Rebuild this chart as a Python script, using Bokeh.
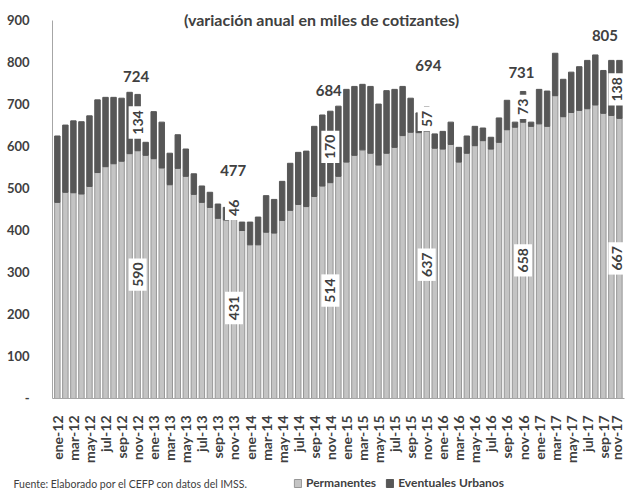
import math
from bokeh.plotting import figure
from bokeh.models import ColumnDataSource, FixedTicker, Label, Legend, LegendItem, Range1d
from bokeh.embed import file_html
from bokeh.resources import INLINE

# ---------------- data ----------------
abrev = ["ene", "feb", "mar", "abr", "may", "jun", "jul", "ago", "sep", "oct", "nov", "dic"]
anios = ["12", "13", "14", "15", "16", "17"]
meses = [f"{m}-{a}" for a in anios for m in abrev][:71]

permanentes = [467, 491, 490, 487, 505, 538, 552, 559, 565, 583, 590, 579,
               571, 549, 509, 548, 529, 486, 467, 455, 429, 425, 431, 400,
               366, 366, 396, 394, 424, 448, 462, 457, 481, 506, 514, 529,
               563, 579, 592, 584, 556, 584, 598, 626, 634, 633, 637, 596,
               594, 605, 563, 584, 602, 614, 594, 610, 640, 646, 658, 648,
               654, 648, 721, 671, 681, 686, 690, 699, 679, 674, 667]
eventuales = [158, 160, 171, 172, 168, 173, 165, 158, 150, 146, 134, 31,
              112, 109, 75, 80, 65, 49, 39, 36, 34, 30, 46, 20,
              54, 66, 87, 80, 93, 112, 124, 132, 167, 169, 170, 167,
              173, 164, 156, 159, 145, 149, 138, 117, 81, 47, 57, 34,
              42, 53, 35, 41, 46, 30, 28, 58, 70, 12, 73, 10,
              82, 84, 101, 89, 96, 104, 115, 119, 102, 131, 138]

destacados = [10, 22, 34, 46, 58, 70]          # months with data labels
titulo = "(variación anual en miles de cotizantes)"
fuente = "Fuente: Elaborado por el CEFP con datos del IMSS."

# label placement tweaks (layout only)
tot_dx = [-0.2, -0.1, -0.2, 0.2, -0.2, -1.8]
tot_dy = [43, 66, 49, 99, 46, 59]
in_dx = [0, 0, 0, 0, 0, -0.25]

# ---------------- figure ----------------
x = list(range(len(meses)))
totales = [a + b for a, b in zip(permanentes, eventuales)]
src = ColumnDataSource(dict(x=x, perm=permanentes, tot=totales))

FONT = "Lato"
TXT = "#404040"
LIGHT = "#c4c4c4"
DARK = "#575757"
AXIS = "#a6a6a6"

X0, X1 = -7.08, 70.76
Y0, Y1 = -228.6, 947.6

p = figure(width=625, height=494, output_backend="svg", toolbar_location=None,
           x_range=Range1d(X0, X1), y_range=Range1d(Y0, Y1),
           min_border_left=0, min_border_right=0, min_border_top=0, min_border_bottom=0)
p.xgrid.visible = False
p.ygrid.visible = False
p.outline_line_color = None
p.background_fill_color = "white"

r1 = p.vbar(x="x", bottom=0, top="perm", width=0.68, source=src,
            fill_color=LIGHT, line_color="#969696", line_width=1)
r2 = p.vbar(x="x", bottom="perm", top="tot", width=0.68, source=src,
            fill_color=DARK, line_color=DARK, line_width=1)

# axes (drawn at fixed data locations)
p.xaxis.fixed_location = 0
p.xaxis.bounds = (-0.6, 70.6)
p.xaxis.ticker = FixedTicker(ticks=list(range(0, len(meses), 2)))
p.xaxis.major_label_overrides = {i: meses[i] for i in range(0, len(meses), 2)}
p.xaxis.major_label_orientation = math.pi / 2
p.xaxis.major_tick_line_color = None
p.xaxis.minor_tick_line_color = None
p.xaxis.axis_line_color = AXIS
p.xaxis.major_label_standoff = 11
p.xaxis.major_label_text_font = FONT
p.xaxis.major_label_text_font_size = "14px"
p.xaxis.major_label_text_font_style = "bold"
p.xaxis.major_label_text_color = TXT

p.yaxis.fixed_location = -0.6
p.yaxis.bounds = (0, 900)
p.yaxis.ticker = FixedTicker(ticks=list(range(0, 1000, 100)))
p.yaxis.major_label_overrides = {0: "-"}
p.yaxis.major_tick_line_color = None
p.yaxis.minor_tick_line_color = None
p.yaxis.axis_line_color = AXIS
p.yaxis.major_label_standoff = 17
p.yaxis.major_label_text_font = FONT
p.yaxis.major_label_text_font_size = "13px"
p.yaxis.major_label_text_font_style = "bold"
p.yaxis.major_label_text_color = TXT

# data labels
for k, i in enumerate(destacados):
    p.add_layout(Label(x=i + tot_dx[k], y=totales[i] + tot_dy[k], text=str(totales[i]),
                       text_align="center", text_baseline="middle",
                       text_font=FONT, text_font_size="15px", text_font_style="bold",
                       text_color=TXT))
    p.add_layout(Label(x=i + in_dx[k], y=permanentes[i] / 2, text=str(permanentes[i]),
                       angle=math.pi / 2, text_align="center", text_baseline="middle",
                       text_font=FONT, text_font_size="14px", text_font_style="bold",
                       text_color=TXT, background_fill_color="white", padding=4))
    p.add_layout(Label(x=i + in_dx[k], y=permanentes[i] + eventuales[i] / 2, text=str(eventuales[i]),
                       angle=math.pi / 2, text_align="center", text_baseline="middle",
                       text_font=FONT, text_font_size="14px", text_font_style="bold",
                       text_color=TXT, background_fill_color="white", padding=4))

# title
p.add_layout(Label(x=32.9, y=902, text=titulo, text_align="center", text_baseline="middle",
                   text_font=FONT, text_font_size="16px", text_font_style="bold",
                   text_color=TXT))

# source note
p.add_layout(Label(x=-5.46, y=-204, text=fuente, text_align="left", text_baseline="middle",
                   text_font=FONT, text_font_size="10.5px", text_color=TXT))

# legend
legend = Legend(items=[LegendItem(label="Permanentes", renderers=[r1]),
                       LegendItem(label="Eventuales Urbanos", renderers=[r2])],
                orientation="horizontal", location=(293, 4),
                glyph_width=9, glyph_height=10, label_height=12, label_standoff=4,
                spacing=9, padding=0, margin=0, border_line_color=None,
                background_fill_alpha=0,
                label_text_font=FONT, label_text_font_size="12px",
                label_text_font_style="bold", label_text_color=TXT)
p.add_layout(legend)

open("out.html", "w").write(file_html(p, INLINE))
